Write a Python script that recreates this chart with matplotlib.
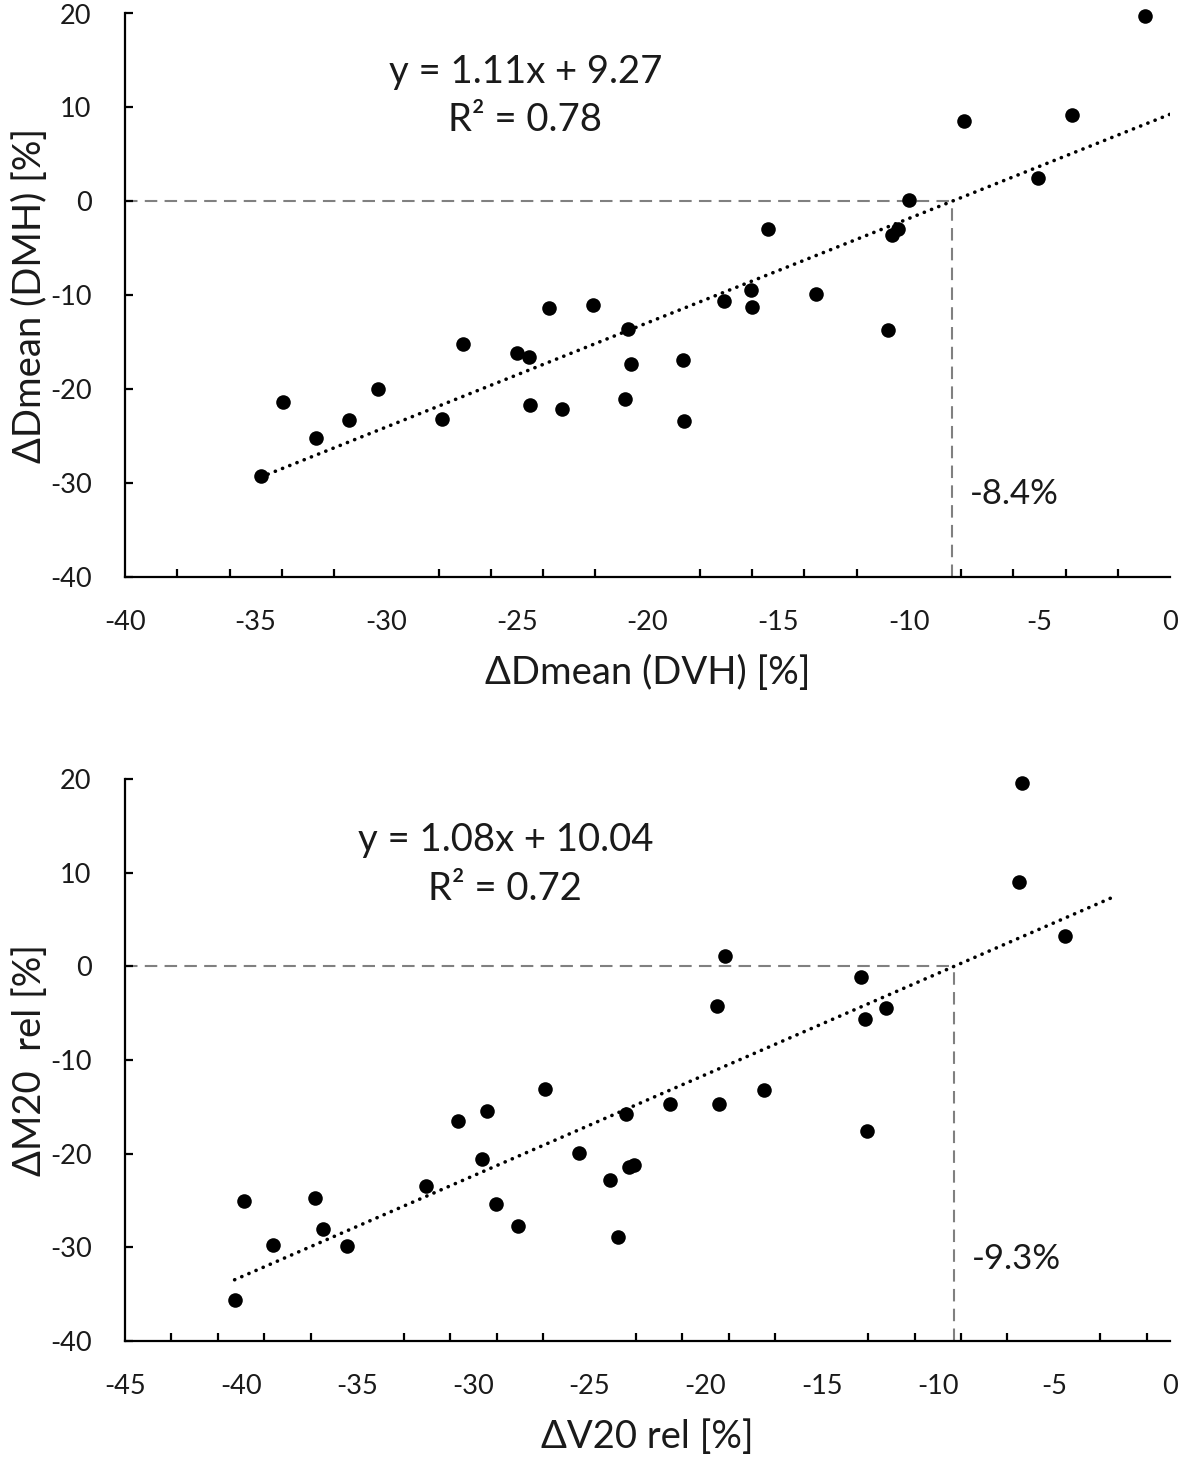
import numpy as np
import matplotlib
matplotlib.use("Agg")
import matplotlib.pyplot as plt
from matplotlib.ticker import MultipleLocator, FixedLocator

plt.rcParams['font.family'] = ['Lato', 'DejaVu Sans']
plt.rcParams['axes.unicode_minus'] = False

# ---- Panel A data: ΔDmean (DVH) vs ΔDmean (DMH) ----
dvh_x = [-34.8, -33.95, -32.67, -31.41, -30.33, -27.88, -27.05, -24.98, -24.54, -23.77,
         -22.1, -24.5, -23.28, -20.74, -20.62, -20.87, -18.65, -18.61, -17.09, -16.05,
         -16.01, -15.38, -13.56, -10.78, -10.65, -10.42, -10.0, -0.97, -7.88, -3.77, -5.05]
dmh_y = [-29.2, -21.4, -25.2, -23.3, -20.0, -23.15, -15.2, -16.1, -16.6, -11.4,
         -11.0, -21.7, -22.1, -13.6, -17.3, -21.1, -16.9, -23.4, -10.6, -9.4,
         -11.3, -2.9, -9.9, -13.7, -3.6, -2.9, 0.1, 19.7, 8.6, 9.2, 2.5]
fit_a = (1.11, 9.27)      # slope, intercept
r2_a = 0.78

# ---- Panel B data: ΔV20 rel vs ΔM20 rel ----
v20_x = [-40.28, -39.89, -38.63, -36.8, -36.47, -35.45, -32.05, -30.67, -29.41, -29.61,
         -29.02, -28.07, -26.93, -25.43, -24.11, -23.41, -23.3, -23.07, -23.78,
         -6.37, -6.5, -4.53, -19.16, -13.3, -19.5, -12.23, -13.13, -17.5, -21.53,
         -19.42, -13.04]
m20_y = [-35.6, -25.1, -29.8, -24.7, -28.0, -29.9, -23.5, -16.5, -15.4, -20.6,
         -25.4, -27.7, -13.1, -19.9, -22.8, -15.8, -21.4, -21.2, -28.9,
         19.6, 9.05, 3.2, 1.15, -1.1, -4.2, -4.5, -5.6, -13.2, -14.7,
         -14.7, -17.6]
fit_b = (1.08, 10.04)
r2_b = 0.72

forecast_forward = 2.0

panels = [
    dict(x=dvh_x, y=dmh_y, fit=fit_a, r2=r2_a, xlim=(-40, 0), ylim=(-40, 20),
         xlabel='ΔDmean (DVH) [%]', ylabel='ΔDmean (DMH) [%]',
         rect=[125/1181, 1 - 577/1460, 1045/1181, 563.5/1460],
         eq_pos=(0.383, 0.896), r2_pos=(0.383, 0.811), minor_start=-40),
    dict(x=v20_x, y=m20_y, fit=fit_b, r2=r2_b, xlim=(-45, 0), ylim=(-40, 20),
         xlabel='ΔV20 rel [%]', ylabel='ΔM20  rel [%]',
         rect=[125/1181, 1 - 1341/1460, 1045/1181, 562/1460],
         eq_pos=(0.364, 0.891), r2_pos=(0.364, 0.804), minor_start=-45),
]

fig = plt.figure(figsize=(11.81, 14.60), dpi=100)
text_color = '#1a1a1a'
grey = '#808080'

for p in panels:
    ax = fig.add_axes(p['rect'])
    x = np.array(p['x']); y = np.array(p['y'])
    m, b = p['fit']
    x0 = -b / m

    # reference dashed lines
    ax.plot([p['xlim'][0], x0], [0, 0], color=grey, lw=1.5,
            linestyle=(0, (6, 3.5)), zorder=1, clip_on=False)
    ax.plot([x0, x0], [p['ylim'][0], 0], color=grey, lw=1.5,
            linestyle=(0, (6, 3.5)), zorder=1)

    # trend line
    xl = np.array([x.min(), min(x.max() + forecast_forward, p['xlim'][1])])
    ax.plot(xl, m * xl + b, color='black', lw=2.6, linestyle=(0, (0.05, 2.1)),
            dash_capstyle='round', zorder=3)

    ax.scatter(x, y, s=110, color='black', zorder=4, linewidths=0, clip_on=False)

    ax.set_xlim(*p['xlim'])
    ax.set_ylim(*p['ylim'])
    for s in ['top', 'right']:
        ax.spines[s].set_visible(False)
    for s in ['left', 'bottom']:
        ax.spines[s].set_linewidth(1.6)
    ax.xaxis.set_major_locator(MultipleLocator(5))
    ax.xaxis.set_minor_locator(FixedLocator(np.arange(p['minor_start'] + 2, p['xlim'][1] + 0.01, 2)))
    ax.yaxis.set_major_locator(MultipleLocator(10))
    ax.tick_params(axis='x', which='major', length=0, pad=24, labelsize=19.5, labelcolor=text_color)
    ax.tick_params(axis='x', which='minor', direction='in', length=6, width=1.6)
    ax.tick_params(axis='y', which='major', direction='in', length=6, width=1.6,
                   pad=24, labelsize=19.5, labelcolor=text_color)
    ax.set_xlabel(p['xlabel'], fontsize=27.5, color=text_color, labelpad=14)
    ax.set_ylabel(p['ylabel'], fontsize=27.5, color=text_color)
    ax.yaxis.set_label_coords(-0.074, 0.5)

    ax.text(*p['eq_pos'], f'y = {m:.2f}x + {b:.2f}', transform=ax.transAxes,
            ha='center', va='center', fontsize=27.5, color=text_color)
    ax.text(*p['r2_pos'], f'R² = {p["r2"]:.2f}', transform=ax.transAxes,
            ha='center', va='center', fontsize=27.5, color=text_color)
    ax.annotate(f'{x0:.1f}%', xy=(x0, -31.2), xytext=(13, 0), textcoords='offset points',
                ha='left', va='center', fontsize=25, color=text_color)

fig.savefig('out.png', dpi=100, facecolor='white')
